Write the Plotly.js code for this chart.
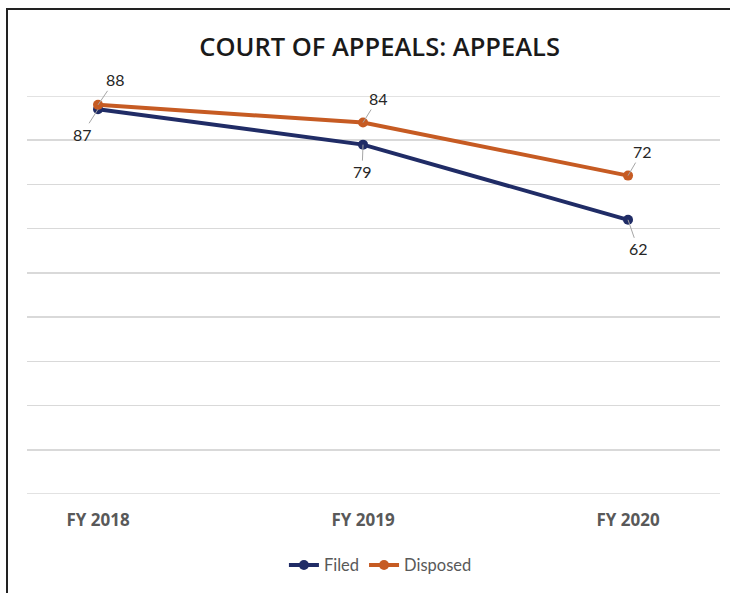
<!DOCTYPE html>
<html>
<head>
<meta charset="utf-8">
<script src="https://cdn.plot.ly/plotly-3.0.1.min.js"></script>
<style>
html,body{margin:0;padding:0;background:#fff;}
#wrap{position:relative;width:730px;height:593px;overflow:hidden;}
#chart{position:absolute;left:0;top:0;width:730px;height:593px;}
#frame{position:absolute;left:6px;top:8px;width:740px;height:600px;border-left:2px solid #222;border-top:2px solid #222;pointer-events:none;}
</style>
</head>
<body>
<div id="wrap"><div id="chart"></div><div id="frame"></div></div>
<script>
// Data
const categories = ["FY 2018", "FY 2019", "FY 2020"];
const filed = [87, 79, 62];
const disposed = [88, 84, 72];
const gridVals = [0, 10, 20, 30, 40, 50, 60, 70, 80, 90];

// label offsets (style)
const filedOff = [[-16, 25], [-1, 27], [10, 29]];
const dispOff = [[17, -25], [15, -24], [14, -24]];

const xIdx = categories.map((_, i) => i);
const navy = "#202c66";
const orange = "#c65b23";
const gridColor = "#d9d9d9";

const traces = [
  {x: xIdx, y: filed, name: "Filed", type: "scatter", mode: "lines+markers",
   line: {color: navy, width: 4}, marker: {color: navy, size: 10}},
  {x: xIdx, y: disposed, name: "Disposed", type: "scatter", mode: "lines+markers",
   line: {color: orange, width: 4}, marker: {color: orange, size: 10}}
];

const annotations = [];
function addLabels(vals, offs) {
  vals.forEach((v, i) => {
    annotations.push({x: xIdx[i], y: v, xref: "x", yref: "y", text: String(v),
      showarrow: true, arrowhead: 0, arrowwidth: 1, arrowcolor: "#a6a6a6",
      ax: offs[i][0], ay: offs[i][1], standoff: 0, startstandoff: 0,
      font: {family: "Lato, 'Liberation Sans', sans-serif", size: 16, color: "#262626"}});
  });
}
addLabels(disposed, dispOff);
addLabels(filed, filedOff);

// edge grid lines (Plotly omits grid lines on the plot edges)
const shapes = [gridVals[0], gridVals[gridVals.length - 1]].map(v => ({
  type: "line", xref: "paper", yref: "y", x0: 0, x1: 1, y0: v, y1: v,
  line: {color: gridColor, width: 1.5}, layer: "below"
}));

const layout = {
  width: 730, height: 593,
  margin: {l: 27, r: 10, t: 96, b: 96},
  paper_bgcolor: "#fff", plot_bgcolor: "#fff",
  title: {text: "COURT OF APPEALS: APPEALS", x: 0.52, xanchor: "center", y: 0.92, yanchor: "middle",
    font: {family: "'Open Sans', sans-serif", size: 25.5, color: "#1a1a1a", weight: 600}},
  xaxis: {range: [-0.268, 2.347], tickmode: "array", tickvals: xIdx, ticktext: categories,
    showgrid: false, zeroline: false, showline: false, ticks: "", ticklabelstandoff: 14,
    tickfont: {family: "'Open Sans', sans-serif", size: 17, color: "#595959", weight: "bold"}},
  yaxis: {range: [0, 90], tickmode: "array", tickvals: gridVals,
    showticklabels: false, showgrid: true,
    gridcolor: gridColor, gridwidth: 1.5, zeroline: false, showline: false, ticks: ""},
  showlegend: true,
  legend: {orientation: "h", x: 0.51, xanchor: "center", y: -0.135, yanchor: "top",
    font: {family: "Lato, 'Liberation Sans', sans-serif", size: 16.5, color: "#595959"}},
  shapes: shapes,
  annotations: annotations
};

Plotly.newPlot("chart", traces, layout, {displayModeBar: false, staticPlot: true});
</script>
</body>
</html>
